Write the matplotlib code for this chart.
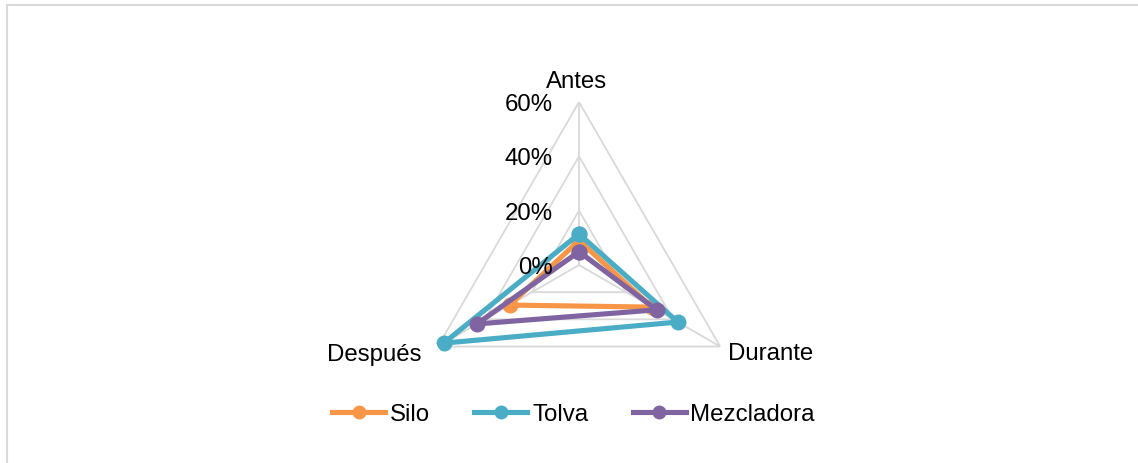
import numpy as np
import matplotlib.pyplot as plt
from matplotlib.lines import Line2D

plt.rcParams['font.family'] = ['Liberation Sans', 'DejaVu Sans']

categories = ['Antes', 'Durante', 'Después']
silo = [9, 31, 29.5]
tolva = [11.4, 42, 57.5]
mezcladora = [4.9, 33, 43.4]
series_names = ['Silo', 'Tolva', 'Mezcladora']
r_ticks = [0, 20, 40, 60]
r_labels = ['0%', '20%', '40%', '60%']

colors = ['#F79646', '#4BACC6', '#8064A2']
grid_c = '#d9d9d9'
fs = 17.3

W, H = 1138, 464
fig = plt.figure(figsize=(W / 100, H / 100), dpi=100)

# chart border (top and left only, as in the reference)
fig.add_artist(Line2D([7 / W, 1], [1 - 5.5 / H, 1 - 5.5 / H], color=grid_c, lw=1.5))
fig.add_artist(Line2D([7 / W, 7 / W], [0, 1 - 5.5 / H], color=grid_c, lw=1.5))

cx, cy, R = 579, 266, 163
ax = fig.add_axes(((cx - R) / W, (H - cy - R) / H, 2 * R / W, 2 * R / H),
                  projection='polar')
ax.set_theta_zero_location('N')
ax.set_theta_direction(-1)
ax.set_ylim(0, 60)
ax.grid(False)
ax.spines['polar'].set_visible(False)
ax.set_xticks([])
ax.set_yticks([])
ax.patch.set_visible(False)

theta = np.deg2rad([0, 120, 240])
theta_c = np.append(theta, theta[0])

# triangular grid
for r in r_ticks[1:]:
    ax.plot(theta_c, [r] * 4, color=grid_c, lw=1.3, zorder=1)
for t in theta:
    ax.plot([t, t], [0, 60], color=grid_c, lw=1.3, zorder=1)

for vals, c, name in zip([silo, tolva, mezcladora], colors, series_names):
    v = np.append(vals, vals[0])
    ax.plot(theta_c, v, color=c, lw=3.7, marker='o', ms=10.5,
            solid_joinstyle='round', label=name, zorder=3)

# radial labels
for r, lab in zip(r_ticks, r_labels):
    ax.annotate(lab, (0, r), xytext=(-26, -2), textcoords='offset pixels',
                ha='right', va='center', fontsize=fs, color='black')

# category labels
offsets = [(-2, 21, 'center'), (8, -7, 'left'), (-16, -7, 'right')]
for t, cat, (dx, dy, ha) in zip(theta, categories, offsets):
    ax.annotate(cat, (t, 60), xytext=(dx, dy), textcoords='offset pixels',
                ha=ha, va='center', fontsize=fs, color='black')

handles = [Line2D([], [], color=c, lw=3.7, marker='o', ms=9) for c in colors]
fig.legend(handles, series_names, loc='center', ncol=3,
           bbox_to_anchor=(573.5 / W, 1 - 415 / H), frameon=False,
           fontsize=fs, handlelength=2.2, handletextpad=0.2,
           columnspacing=1.85)

fig.savefig('out.png', dpi=100)
